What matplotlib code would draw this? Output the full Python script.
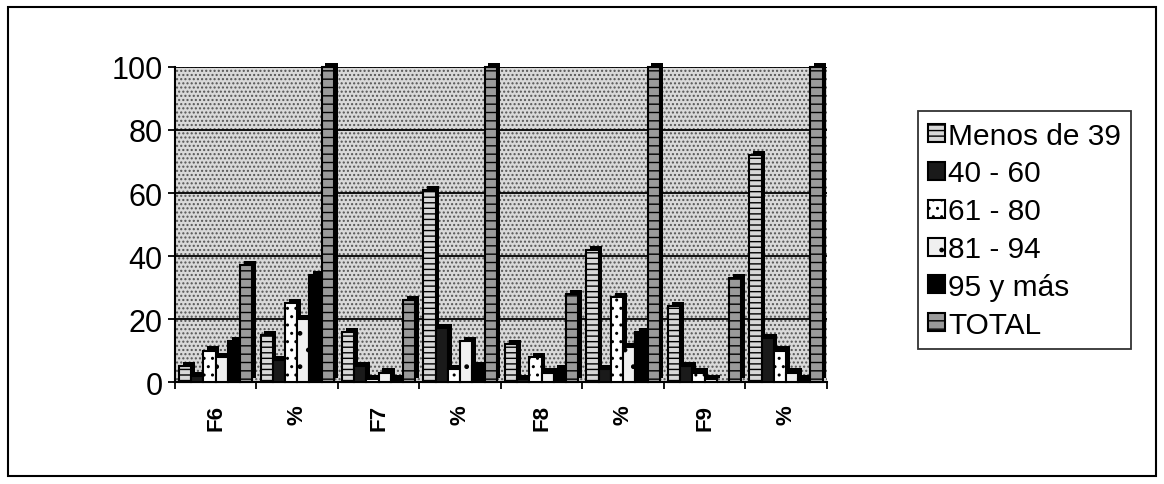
import numpy as np
import matplotlib.pyplot as plt
from matplotlib.patches import Rectangle

plt.rcParams['font.family'] = ['Liberation Sans', 'DejaVu Sans']
plt.rcParams['hatch.linewidth'] = 1.0

# categories on the x axis
categories = ['F6', '%', 'F7', '%', 'F8', '%', 'F9', '%']

# series (age groups)
series_names = ['Menos de 39', '40 - 60', '61 - 80', '81 - 94', '95 y más', 'TOTAL']
menos_39 = [5, 15, 16, 61, 12, 42, 24, 72]
de_40_60 = [2, 7, 5, 17, 1, 4, 5, 14]
de_61_80 = [10, 25, 1, 4, 8, 27, 3, 10]
de_81_94 = [8, 20, 3, 13, 3, 11, 1, 3]
mas_95 = [13, 34, 1, 5, 4, 16, 0, 1]
total = [37, 100, 26, 100, 28, 100, 33, 100]

y_ticks = [0, 20, 40, 60, 80, 100]

series_values = [menos_39, de_40_60, de_61_80, de_81_94, mas_95, total]
styles = [
    dict(facecolor='#d8d8d8', hatch='---'),
    dict(facecolor='#1a1a1a', hatch=None),
    dict(facecolor='white', hatch='..'),
    dict(facecolor='#f0f0f0', hatch='.'),
    dict(facecolor='#000000', hatch=None),
    dict(facecolor='#9a9a9a', hatch='--'),
]

fig = plt.figure(figsize=(11.64, 4.85), dpi=100)
ax = fig.add_axes([0.1503, 0.2103, 0.5600, 0.6495])

# dotted grey wall like the Excel chart
ax.patch.set_facecolor('#d9d9d9')
ax.patch.set_hatch('....')
ax.patch.set_edgecolor('#555555')
ax.patch.set_linewidth(0)

x = np.arange(len(categories))
w = 0.15
depth_x, depth_y = 0.045, 1.3  # fake 3-D depth of the columns
for j, (vals, st) in enumerate(zip(series_values, styles)):
    pos = x + (j - 2.5) * w
    # dark side/top behind the front face
    ax.bar(pos + depth_x, vals, width=w, bottom=depth_y, color='black',
           zorder=2.5, clip_on=False)
    ax.bar(pos, vals, width=w, label=series_names[j],
           facecolor=st['facecolor'], hatch=st['hatch'],
           edgecolor='black', linewidth=1.5, zorder=3, clip_on=False)

ax.set_xlim(-0.5, len(categories) - 0.5)
ax.set_ylim(0, 100)
ax.set_yticks(y_ticks)
ax.set_yticklabels([str(v) for v in y_ticks], fontsize=22)
ax.yaxis.grid(True, color='black', linewidth=1.3, zorder=1)
ax.set_axisbelow(True)

ax.set_xticks(np.arange(len(categories) + 1) - 0.5, minor=False)
ax.set_xticklabels([''] * (len(categories) + 1))
ax.set_xticks(x, minor=True)
ax.set_xticklabels(categories, minor=True, rotation=90, fontsize=16,
                   fontweight='bold')
ax.tick_params(axis='x', which='minor', length=0, pad=16)
ax.tick_params(axis='x', which='major', length=5, width=1.3)
ax.tick_params(axis='y', length=5, width=1.3, pad=4)

for side in ['top', 'right']:
    ax.spines[side].set_visible(False)
ax.spines['left'].set_linewidth(1.5)
ax.spines['bottom'].set_linewidth(1.5)

handles, labels = ax.get_legend_handles_labels()
leg = ax.legend(handles, labels, loc='upper left', bbox_to_anchor=(1.14, 0.86),
                fontsize=21.5, frameon=True, fancybox=False, edgecolor='black',
                handlelength=0.55, handleheight=0.55, handletextpad=0.1,
                labelspacing=0.33, borderpad=0.35, borderaxespad=0)
leg.get_frame().set_linewidth(1.3)

# outer chart border
fig.patches.append(Rectangle((0.007, 0.016), 0.986, 0.967, transform=fig.transFigure,
                             fill=False, edgecolor='black', linewidth=1.5))

fig.savefig('out.png', dpi=100)
